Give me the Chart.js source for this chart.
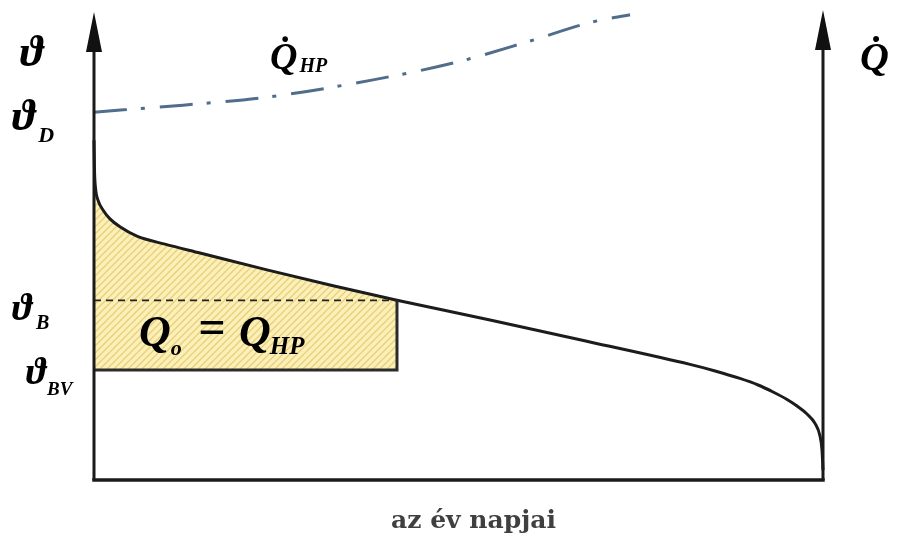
<!DOCTYPE html>
<html lang="hu">
<head>
<meta charset="utf-8">
<title>Tartamdiagram</title>
<script src="https://cdn.jsdelivr.net/npm/chart.js@4/dist/chart.umd.min.js"></script>
<style>
  html, body { margin: 0; padding: 0; background: #fff; }
  #doboz { width: 899px; height: 537px; position: relative; }
</style>
</head>
<body>
<div id="doboz"><canvas id="grafikon"></canvas></div>
<script>
// hőmérséklet-tartamgörbe (az év napjai szerint rendezve)
const napok = [0, 0.25, 0.75, 2, 4.5, 8, 13, 21.5, 35.5, 53.1, 86.6, 119.7, 151.7, 198.3, 248.3, 298.4, 311, 323.4, 332.5, 340, 347, 352, 357, 361, 363.5, 364.5, 365];
const homerseklet = [72.6, 66.2, 62.4, 59.8, 57.7, 55.8, 54.1, 52.1, 50.4, 48.5, 44.9, 41.5, 38.4, 34.2, 29.5, 24.7, 23.3, 21.7, 20.3, 18.8, 17.2, 15.8, 14.1, 12.1, 9.4, 6.4, 2.1];

// hőszivattyú teljesítménye (Q̇_HP)
const hpNapok = [0, 44.6, 86.6, 139.7, 181.8, 216.8, 249.8, 268.4];
const hpErtekek = [78.6, 80.1, 81.8, 85.5, 89.3, 93.6, 97.9, 99.4];

// bivalens pont és a bivalens alsó határ
const bivalensNap = 151.7;
const thetaB = 38.4;
const thetaBV = 23.5;

const egyNapHossz = 365;
const yMax = 100;

// a sraffozott terület csak a bivalens napig tart
const sraffNapok = napok.filter((n) => n <= bivalensNap);
const sraffErtekek = homerseklet.slice(0, sraffNapok.length);

function pontok(xs, ys) {
  return xs.map((x, i) => ({ x: x, y: ys[i] }));
}

function sraffozas() {
  const c = document.createElement("canvas");
  c.width = 7;
  c.height = 7;
  const g = c.getContext("2d");
  g.fillStyle = "#fcf0b9";
  g.fillRect(0, 0, 7, 7);
  g.strokeStyle = "#e9cf7c";
  g.lineWidth = 1.4;
  g.beginPath();
  g.moveTo(-1, 8);
  g.lineTo(8, -1);
  g.moveTo(-1, 1);
  g.lineTo(1, -1);
  g.moveTo(6, 8);
  g.lineTo(8, 6);
  g.stroke();
  return g.createPattern(c, "repeat");
}

const betu = (meret) => `italic bold ${meret}px "Liberation Serif", "DejaVu Serif", serif`;

// felirat alsó indexszel
function indexes(ctx, alap, index, x, y, meret, indexMeret, eltolas, beljebb) {
  ctx.font = betu(meret);
  ctx.fillText(alap, x, y);
  const w = ctx.measureText(alap).width;
  ctx.font = betu(indexMeret);
  ctx.fillText(index, x + w - beljebb, y + eltolas);
}

function nyil(ctx, x, felso, also) {
  ctx.beginPath();
  ctx.moveTo(x, also);
  ctx.lineTo(x, felso + 30);
  ctx.stroke();
  ctx.beginPath();
  ctx.moveTo(x, felso);
  ctx.lineTo(x - 8, felso + 40);
  ctx.lineTo(x + 8, felso + 40);
  ctx.closePath();
  ctx.fill();
}

const tengelyek = {
  id: "tengelyek",
  afterDatasetsDraw(chart) {
    const { ctx, chartArea } = chart;
    const xs = chart.scales.x;
    const ys = chart.scales.y;
    ctx.save();
    ctx.strokeStyle = "#1a1a1a";
    ctx.fillStyle = "#111";
    ctx.lineWidth = 3.5;
    ctx.lineCap = "square";

    // alsó tengely
    ctx.beginPath();
    ctx.moveTo(chartArea.left, chartArea.bottom);
    ctx.lineTo(chartArea.right, chartArea.bottom);
    ctx.stroke();

    ctx.lineCap = "butt";
    ctx.lineWidth = 3;
    nyil(ctx, chartArea.left, chartArea.top, chartArea.bottom);
    nyil(ctx, chartArea.right, chartArea.top - 2, chartArea.bottom);

    // feliratok
    ctx.fillStyle = "#000";
    ctx.textAlign = "left";
    ctx.textBaseline = "alphabetic";
    ctx.font = betu(44);
    ctx.fillText("ϑ", 20, 66);
    indexes(ctx, "ϑ", "D", 12, 130, 44, 22, 12, -3);
    indexes(ctx, "ϑ", "B", 12, 320, 38, 20, 9, -4);
    indexes(ctx, "ϑ", "BV", 26, 384, 38, 19, 11, -1);

    indexes(ctx, "Q̇", "HP", 270, 69, 38, 20, 3, -2);
    ctx.font = betu(40);
    ctx.fillText("Q̇", 860, 70);

    const yBox = ys.getPixelForValue((thetaB + thetaBV) / 2) + 11;
    indexes(ctx, "Q", "o", 139, yBox, 44, 22, 9, 0);
    ctx.font = betu(48);
    ctx.fillText("=", 198, yBox - 3);
    indexes(ctx, "Q", "HP", 239, yBox, 44, 25, 8, 1);

    ctx.fillStyle = "#3f3f3f";
    ctx.font = 'bold 25px "DejaVu Serif", "Liberation Serif", serif';
    ctx.textAlign = "center";
    ctx.fillText("az év napjai", xs.getPixelForValue(190), 528);
    ctx.restore();
  },
};

const grafikon = document.getElementById("grafikon").getContext("2d");

new Chart(grafikon, {
  type: "line",
  data: {
    datasets: [
      {
        // sraffozott terület a görbe alatt, a ϑ_BV szintig
        data: pontok(sraffNapok, sraffErtekek),
        borderWidth: 0,
        pointRadius: 0,
        backgroundColor: sraffozas(),
        fill: { value: thetaBV },
        cubicInterpolationMode: "monotone",
        clip: false,
        order: 10,
      },
      {
        // ϑ_B szaggatott vonal
        data: pontok([0, bivalensNap], [thetaB, thetaB]),
        borderColor: "#222",
        borderWidth: 1.8,
        borderDash: [7, 5],
        pointRadius: 0,
        fill: false,
      },
      {
        // a terület alsó és jobb oldali határa
        data: pontok([0, bivalensNap, bivalensNap], [thetaBV, thetaBV, thetaB]),
        borderColor: "#2b2b2b",
        borderWidth: 3,
        pointRadius: 0,
        fill: false,
        tension: 0,
      },
      {
        data: pontok(napok, homerseklet),
        borderColor: "#1c1c1c",
        borderWidth: 3,
        pointRadius: 0,
        fill: false,
        cubicInterpolationMode: "monotone",
        clip: false,
      },
      {
        data: pontok(hpNapok, hpErtekek),
        borderColor: "#506d8b",
        borderWidth: 3,
        borderDash: [33, 14, 4, 15],
        pointRadius: 0,
        fill: false,
        cubicInterpolationMode: "monotone",
        clip: false,
      },
    ],
  },
  options: {
    responsive: true,
    maintainAspectRatio: false,
    animation: false,
    layout: {
      padding: { left: 94, right: 76, top: 12, bottom: 57 },
    },
    plugins: {
      legend: { display: false },
      tooltip: { enabled: false },
      filler: { drawTime: "beforeDatasetsDraw" },
    },
    scales: {
      x: { type: "linear", min: 0, max: egyNapHossz, display: false },
      y: { min: 0, max: yMax, display: false },
    },
  },
  plugins: [tengelyek],
});
</script>
</body>
</html>
